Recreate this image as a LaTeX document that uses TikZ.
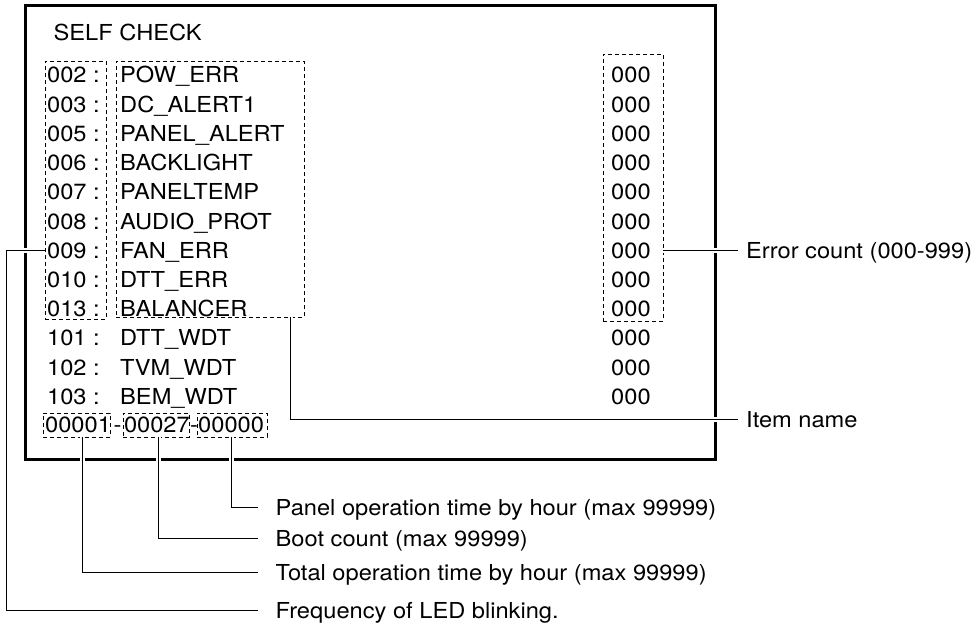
\documentclass[tikz,border=0pt]{standalone}
\usepackage{fontspec}
\setmainfont{TeX Gyre Heros}[FakeStretch=1.075]
\usepackage{tikz}
\tikzstyle{panel} = [draw=black, line width=3pt]
\tikzstyle{dbox} = [draw=black, line width=0.9pt, dash pattern=on 4pt off 3pt, rectangle, inner sep=0pt]
\tikzstyle{item} = [anchor=base west, inner sep=0pt]
\tikzstyle{lead} = [draw=black, line width=1pt, preaction={draw=white, line width=5pt}]
\tikzstyle{note} = [anchor=west, inner xsep=8pt, inner ysep=0pt, text height=16pt, text depth=0pt]
\tikzstyle{farnote} = [note, inner xsep=17.5pt]

\begin{document}
\begin{tikzpicture}[x=1pt, y=-1pt, font=\fontsize{22}{26}\selectfont]
\useasboundingbox (0,0) rectangle (979,623);

% screen contents
\node [item] (title) at (53.5,41) {SELF CHECK};
\foreach \code/\name [count=\i] in {002/POW\_ERR, 003/DC\_ALERT1, 005/PANEL\_ALERT,
    006/BACKLIGHT, 007/PANELTEMP, 008/AUDIO\_PROT, 009/FAN\_ERR, 010/DTT\_ERR,
    013/BALANCER, 101/DTT\_WDT, 102/TVM\_WDT, 103/BEM\_WDT}{
  \node [item] (c\i) at (47,{83+29.2*(\i-1)}) {\code\ :};
  \node [item] (n\i) at (120,{83+29.2*(\i-1)}) {\name};
  \node [item] (e\i) at (611,{83+29.2*(\i-1)}) {000};
}
\node [dbox, minimum width=61pt, minimum height=258pt] (codes) at (75.5,190) {};
\node [dbox, minimum width=188pt, minimum height=256pt] (names) at (210,189) {};
\node [dbox, minimum width=60pt, minimum height=267pt] (counts) at (633,187.5) {};

% time / boot counters
\node [item] (counters) at (45,432.7)
  {00001\hspace{2.6pt}-\hspace{2.6pt}00027\hspace{0.3pt}-\hspace{0.3pt}00000};
\node [dbox, minimum width=67pt, minimum height=24pt] (tot) at (76.5,425) {};
\node [dbox, minimum width=66pt, minimum height=24pt] (boot) at (156,425) {};
\node [dbox, minimum width=70pt, minimum height=24pt] (ptime) at (232,425) {};

\draw [panel] (25,6) rectangle (715,459);

% explanations
\node [note] (errc) at (738,250.5) {Error count (000-999)};
\node [note] (itm) at (738,419) {Item name};
\node [farnote] (pnl) at (258,507) {Panel operation time by hour (max 99999)};
\node [farnote] (btc) at (258,538) {Boot count (max 99999)};
\node [farnote] (ttc) at (258,572) {Total operation time by hour (max 99999)};
\node [farnote] (frq) at (258,610) {Frequency of LED blinking.};

\draw [lead] (counts.east |- errc.west) -- (errc.west);
\draw [lead] ([xshift=80pt]names.south) |- (itm.west);
\draw [lead] ([xshift=-1pt]ptime.south) |- (pnl.west);
\draw [lead] ([xshift=2pt]boot.south) |- (btc.west);
\draw [lead] ([xshift=5.5pt]tot.south) |- (ttc.west);
\draw [lead] (codes.west |- c7.center) -- ++(-38,0) |- (frq.west);
\end{tikzpicture}
\end{document}
